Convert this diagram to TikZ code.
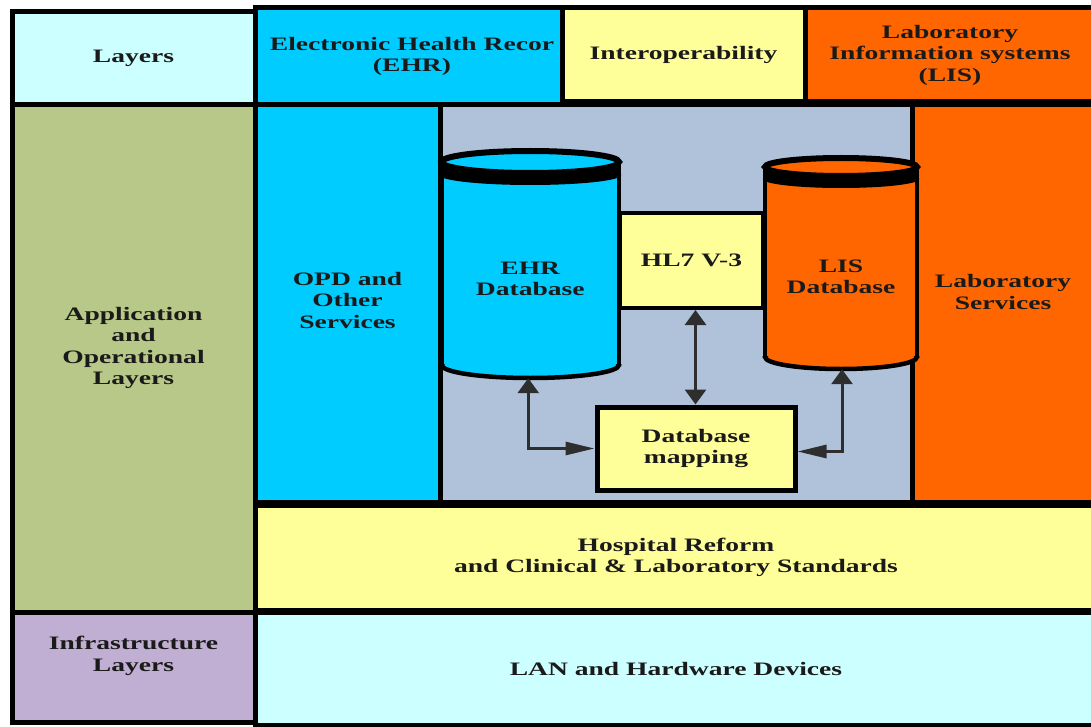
\documentclass[tikz,border=0pt]{standalone}
\usepackage{fontspec}
\setmainfont{Liberation Serif}[FakeStretch=1.45]
\usetikzlibrary{arrows.meta}
\definecolor{lcyan}{HTML}{CCFFFF}
\definecolor{ecyan}{HTML}{00CCFF}
\definecolor{lyellow}{HTML}{FFFF99}
\definecolor{lorange}{HTML}{FF6600}
\definecolor{olivegreen}{HTML}{B8C888}
\definecolor{lav}{HTML}{C0AFD2}
\definecolor{greyblue}{HTML}{B0C2DA}
\definecolor{ink}{HTML}{1A1A1A}
\definecolor{arrowgrey}{HTML}{2E2E2E}
\tikzset{vtip/.tip={Triangle[length=15pt,width=21pt]},
         htip/.tip={Triangle[length=29pt,width=13pt]}}
\begin{document}
\begin{tikzpicture}[x=1pt,y=-1pt,
  box/.style={draw=black, line width=5pt, inner sep=0pt, align=center, text=ink,
    font=\fontsize{19}{21.5}\selectfont\bfseries},
  plain/.style={inner sep=0pt, align=center, text=ink,
    font=\fontsize{19}{21.5}\selectfont\bfseries},
  cylside/.style={line width=4.5pt, draw=black},
  cyltop/.style={line width=6pt, draw=black},
  link/.style={line width=3pt, draw=arrowgrey}]
\useasboundingbox (0,0) rectangle (1091,727);
\fill[white] (0,0) rectangle (1091,727);
% header row
\node[box, fill=lcyan, minimum width=243pt, minimum height=93pt] (layers) at (133.5,58.5) {Layers};
\node[box, fill=ecyan, minimum width=307pt, minimum height=97pt] (ehrhead) at (408.5,56.5) {};
\node[plain] (ehrheadtext) at (412,56.5) {Electronic Health Recor\\(EHR)};
\node[box, fill=lyellow, minimum width=243pt, minimum height=94pt] (interop) at (683.5,55) {Interoperability};
\node[box, fill=lorange, minimum width=290pt, minimum height=94pt] (lishead) at (950,55) {Laboratory\\Information systems\\(LIS)};
% application layer
\node[box, fill=olivegreen, minimum width=243pt, minimum height=507pt] (app) at (133.5,358.5) {};
\node[plain] (apptext) at (133.5,348) {Application\\and\\Operational\\Layers};
\node[box, fill=ecyan, minimum width=185pt, minimum height=397pt] (opd) at (347.5,303.5) {};
\node[plain] (opdtext) at (347.5,300) {OPD and\\Other\\Services};
\node[box, fill=greyblue, minimum width=472pt, minimum height=397pt] (mid) at (676,303.5) {};
\node[box, fill=lorange, minimum width=182pt, minimum height=397pt] (labserv) at (1003,303.5) {};
\node[plain] (labservtext) at (1003,292) {Laboratory\\Services};
\node[box, fill=lyellow, minimum width=842pt, minimum height=105pt] (hosp) at (676,557.5) {Hospital Reform\\and Clinical \& Laboratory Standards};
% infrastructure
\node[box, fill=lav, minimum width=243pt, minimum height=110pt] (infra) at (133.5,667) {};
\node[plain] (infratext) at (133.5,656) {Infrastructure\\Layers};
\node[box, fill=lcyan, minimum width=842pt, minimum height=113pt] (lan) at (676,668.5) {LAN and Hardware Devices};
% HL7 box
\node[box, line width=4pt, fill=lyellow, minimum width=143pt, minimum height=95pt] (hl7) at (691.5,260.5) {HL7 V-3};
% EHR cylinder
\fill[ecyan] (441.5,162) rectangle (619,365);
\filldraw[fill=ecyan, cylside] (530.25,365) ellipse [x radius=88.75, y radius=13];
\fill[ecyan] (443.5,162) rectangle (617,364);
\draw[cylside] (441.5,162) -- (441.5,365) (619,162) -- (619,365);
\fill[black] (439.25,162) rectangle (621.25,175);
\fill[black] (530.25,175) ellipse [x radius=91, y radius=10];
\filldraw[fill=ecyan, cyltop] (530.25,162) ellipse [x radius=88.75, y radius=11];
\node[plain, minimum width=177pt, minimum height=198pt] (ehrdb) at (530.25,279) {EHR\\Database};
% LIS cylinder
\fill[lorange] (765,167) rectangle (917,357);
\filldraw[fill=lorange, cylside] (841,357) ellipse [x radius=76, y radius=12];
\fill[lorange] (767,167) rectangle (915,356);
\draw[cylside] (765,167) -- (765,357) (917,167) -- (917,357);
\fill[black] (762.75,167) rectangle (919.25,179);
\fill[black] (841,179) ellipse [x radius=78.25, y radius=9];
\filldraw[fill=lorange, cyltop] (841,167) ellipse [x radius=76, y radius=9];
\node[plain, minimum width=152pt, minimum height=184pt] (lisdb) at (841,277) {LIS\\Database};
% mapping box
\node[box, fill=lyellow, minimum width=198pt, minimum height=83pt] (map) at (696,448.5) {Database\\mapping};
% arrows
\draw[link, {vtip}-{htip}] ([xshift=-2pt]ehrdb.south) |- (map.west);
\draw[link, {vtip}-{vtip}] ([xshift=4pt]hl7.south) -- ([xshift=-0.5pt]map.north);
\draw[link, {vtip}-{htip}] ([xshift=1pt]lisdb.south) |- ([yshift=-3pt]map.east);
\end{tikzpicture}
\end{document}
